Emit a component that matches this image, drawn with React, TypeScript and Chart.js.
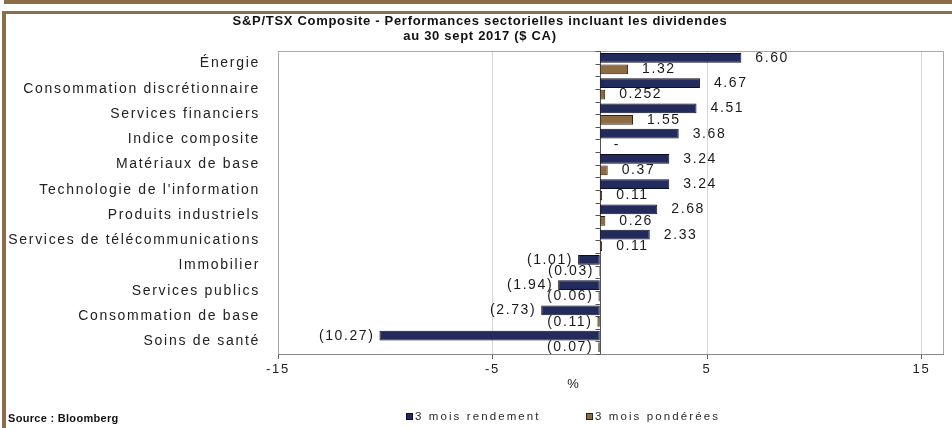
import React, { useEffect, useRef } from "react";
import { Chart, registerables } from "chart.js";

Chart.register(...registerables);

const categories = [
  "Énergie",
  "Consommation discrétionnaire",
  "Services financiers",
  "Indice composite",
  "Matériaux de base",
  "Technologie de l'information",
  "Produits industriels",
  "Services de télécommunications",
  "Immobilier",
  "Services publics",
  "Consommation de base",
  "Soins de santé",
];
const rendement = [6.6, 4.67, 4.51, 3.68, 3.24, 3.24, 2.68, 2.33, -1.01, -1.94, -2.73, -10.27];
const ponderees = [1.32, 0.252, 1.55, null, 0.37, 0.11, 0.26, 0.11, -0.03, -0.06, -0.11, -0.07];
const seriesNames = ["3 mois rendement", "3 mois pondérées"];
const xTicks = [-15, -5, 5, 15];
const titleLines = [
  "S&P/TSX Composite - Performances sectorielles incluant les dividendes",
  "au 30 sept 2017 ($ CA)",
];
const axisTitle = "%";
const sourceText = "Source : Bloomberg";

const NAVY = "#232a5c";
const BROWN = "#8d6b43";
const FRAME = "#8c6d47";
const FONT = "'Liberation Sans', Arial, sans-serif";

function fmt(v: number | null): string {
  if (v === null || v === undefined) return "-";
  const s = String(Math.abs(v));
  const dec = s.includes(".") ? s.split(".")[1].length : 0;
  const t = Math.abs(v).toFixed(Math.max(2, dec));
  return v < 0 ? "(" + t + ")" : t;
}

const decorPlugin = {
  id: "decor",
  beforeDraw(chart: any) {
    (chart.ctx as any).letterSpacing = "1.7px";
  },
  beforeDatasetsDraw(chart: any) {
    const { ctx, chartArea, scales } = chart;
    const x0 = scales.x.getPixelForValue(0);
    ctx.save();
    ctx.letterSpacing = "0px";
    ctx.strokeStyle = "#a8a8a8";
    ctx.lineWidth = 1;
    ctx.beginPath();
    ctx.moveTo(chartArea.left, chartArea.top + 0.5);
    ctx.lineTo(chartArea.right + 0.5, chartArea.top + 0.5);
    ctx.lineTo(chartArea.right + 0.5, chartArea.bottom);
    ctx.stroke();
    ctx.strokeStyle = "#555";
    ctx.beginPath();
    const zx = Math.round(x0) + 0.5;
    ctx.moveTo(zx, chartArea.top);
    ctx.lineTo(zx, chartArea.bottom);
    const n = categories.length * 2;
    const h = (chartArea.bottom - chartArea.top) / n;
    for (let i = 0; i <= n; i++) {
      const y = Math.round(chartArea.top + i * h) + 0.5;
      ctx.moveTo(zx - 5, y);
      ctx.lineTo(zx, y);
    }
    ctx.stroke();
    ctx.restore();
  },
  afterDatasetsDraw(chart: any) {
    const { ctx, scales } = chart;
    const xs = scales.x;
    ctx.save();
    ctx.font = "14px " + FONT;
    ctx.letterSpacing = "1.6px";
    ctx.fillStyle = "#1a1a1a";
    ctx.textBaseline = "middle";
    chart.data.datasets.forEach((ds: any, di: number) => {
      const meta = chart.getDatasetMeta(di);
      ds.data.forEach((v: number | null, i: number) => {
        const el = meta.data[i];
        const y = el.y;
        const text = fmt(v);
        if (v === null) {
          ctx.textAlign = "left";
          ctx.fillText(text, xs.getPixelForValue(0) + 14, y);
        } else if (v >= 0) {
          ctx.textAlign = "left";
          ctx.fillText(text, xs.getPixelForValue(v) + 14, y);
        } else {
          ctx.textAlign = "right";
          ctx.fillText(text, xs.getPixelForValue(v) - 5, y);
        }
      });
    });
    ctx.restore();
  },
  afterDraw(chart: any) {
    const { ctx } = chart;
    ctx.save();
    ctx.fillStyle = "#111";
    ctx.textAlign = "center";
    ctx.textBaseline = "alphabetic";
    ctx.font = "bold 13px " + FONT;
    ctx.letterSpacing = "0.7px";
    ctx.fillText(titleLines[0], 480, 25);
    ctx.fillText(titleLines[1], 480, 40);

    ctx.font = "13px " + FONT;
    ctx.letterSpacing = "0px";
    ctx.fillStyle = "#222";
    ctx.fillText(axisTitle, 573, 388);

    // legend
    ctx.font = "11.5px " + FONT;
    ctx.letterSpacing = "2.1px";
    ctx.textAlign = "left";
    const items = [0, 1].map((k) => ({
      x: k === 0 ? 406 : 586,
      c: chart.data.datasets[k].backgroundColor,
      b: chart.data.datasets[k].borderColor,
      t: chart.data.datasets[k].label,
    }));
    items.forEach((it) => {
      ctx.fillStyle = it.c;
      ctx.fillRect(it.x, 413, 7, 7);
      ctx.strokeStyle = it.b;
      ctx.lineWidth = 1;
      ctx.strokeRect(it.x + 0.5, 413.5, 6, 6);
      ctx.fillStyle = "#2a2a2a";
      ctx.fillText(it.t, it.x + 9, 420);
    });

    ctx.font = "bold 11px " + FONT;
    ctx.letterSpacing = "0.3px";
    ctx.fillStyle = "#111";
    ctx.fillText(sourceText, 8, 422);
    ctx.restore();
  },
};

export default function App() {
  const ref = useRef<HTMLCanvasElement | null>(null);
  useEffect(() => {
    document.body.style.margin = "0";
    const canvas = ref.current!;
    const chart = new Chart(canvas, {
      type: "bar",
      data: {
        labels: categories,
        datasets: [
          {
            label: seriesNames[0],
            data: rendement,
            backgroundColor: NAVY,
            borderColor: "#0d0f22",
            borderWidth: 1,
            borderSkipped: false,
            categoryPercentage: 0.9,
            barPercentage: 0.85,
          },
          {
            label: seriesNames[1],
            data: ponderees,
            backgroundColor: BROWN,
            borderColor: "#2e2212",
            borderWidth: 1,
            borderSkipped: false,
            categoryPercentage: 0.9,
            barPercentage: 0.85,
          },
        ],
      },
      options: {
        indexAxis: "y",
        responsive: false,
        animation: false,
        devicePixelRatio: 1,
        layout: { padding: { top: 51, right: 9, bottom: 0, left: 0 } },
        plugins: {
          legend: { display: false },
          tooltip: { enabled: false },
          title: { display: false },
        },
        scales: {
          y: {
            type: "category",
            grid: { display: false },
            border: { display: true, color: "#a8a8a8" },
            ticks: { font: { size: 14, family: FONT }, color: "#222", padding: 10 },
            afterFit: (s: any) => {
              s.width = 278;
            },
          },
          x: {
            type: "linear",
            min: -15,
            max: 16,
            afterBuildTicks: (s: any) => {
              s.ticks = xTicks.map((v) => ({ value: v }));
            },
            grid: { color: "#d6d6d6", tickColor: "#666", tickLength: 5, drawTicks: true },
            border: { display: true, color: "#888" },
            ticks: { font: { size: 13, family: FONT }, color: "#222", padding: 3 },
            afterFit: (s: any) => {
              s.height = 74;
            },
          },
        },
      },
      plugins: [decorPlugin],
    } as any);
    return () => chart.destroy();
  }, []);

  return (
    <div style={{ position: "relative", width: 952, height: 428, background: "#fff", overflow: "hidden" }}>
      <canvas ref={ref} width={952} height={428} style={{ position: "absolute", left: 0, top: 0 }} />
      <div style={{ position: "absolute", left: 4, top: 0, width: 948, height: 4, background: FRAME }} />
      <div style={{ position: "absolute", left: 2, top: 11, width: 950, height: 3, background: FRAME }} />
      <div style={{ position: "absolute", left: 2, top: 11, width: 4, height: 417, background: FRAME }} />
    </div>
  );
}
